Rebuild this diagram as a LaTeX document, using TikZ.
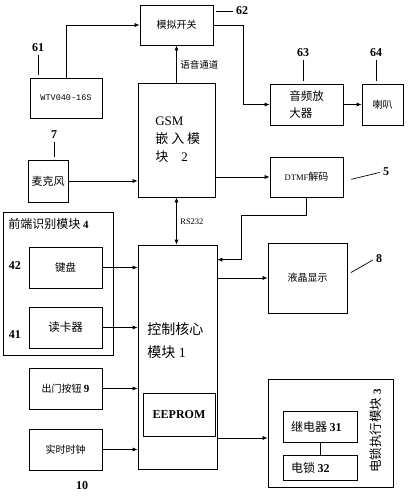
\documentclass[tikz,border=0pt]{standalone}
\usepackage{fontspec}
\setmainfont{Liberation Serif}
\setmonofont{Liberation Mono}
\newfontfamily\cjk{Noto Sans CJK SC}
\usetikzlibrary{arrows.meta, positioning}

\begin{document}
\begin{tikzpicture}[x=1pt, y=-1pt, line width=0.7pt,
    box/.style={draw, inner sep=1pt, font=\cjk\fontsize{10}{12}\selectfont},
    num/.style={font=\bfseries\fontsize{12}{13}\selectfont, inner sep=1pt},
    lead/.style={shorten <=2pt, shorten >=3pt},
    arr/.style={-{Latex[length=5pt,width=4pt]}}]
    \useasboundingbox (0,0) rectangle (407,500);

    % GSM part
    \node[box, minimum width=73, minimum height=40] (sw) at (176.5,25) {模拟开关};
    \node[box, minimum width=72, minimum height=40, font=\ttfamily\fontsize{8.5}{9}\selectfont] (wtv) at (66,98) {WTV040-16S};
    \node[box, minimum width=77, minimum height=114] (gsm) at (176.5,140) {};
    \node[anchor=north west, align=left, inner sep=0pt, font=\fontsize{13}{18}\selectfont] (gsmtxt) at (155,117) {GSM\\{\cjk 嵌 入 模}\\{\cjk 块}\quad 2};
    \node[box, minimum width=40, minimum height=42, font=\cjk\fontsize{11}{12}\selectfont] (mic) at (48,181) {麦克风};
    \node[box, minimum width=73, minimum height=41, align=left, font=\cjk\fontsize{11.5}{17}\selectfont] (amp) at (306.5,104.5) {音频放\\大器};
    \node[box, minimum width=41, minimum height=41] (spk) at (382.5,104.5) {喇叭};
    \node[box, minimum width=73, minimum height=40] (dtmf) at (306.5,177) {{\rmfamily\fontsize{8.5}{9}\selectfont DTMF}解码};

    % control part
    \node[box, minimum width=79, minimum height=224] (ctrl) at (177.5,357) {};
    \node[anchor=west, align=left, inner sep=0pt, font=\fontsize{14}{23}\selectfont] (ctrltxt) at (147,340.5) {{\cjk 控制核心}\\{\cjk 模块}~1};
    \node[draw, minimum width=72, minimum height=43, font=\bfseries\fontsize{12}{14}\selectfont] (eep) at (179,414.5) {EEPROM};
    \node[box, minimum width=79, minimum height=70] (lcd) at (307.5,278) {液晶显示};

    % front module
    \node[draw, minimum width=110, minimum height=143] (front) at (58,283.5) {};
    \node[anchor=west, inner sep=0pt, font=\cjk\fontsize{12}{13}\selectfont] (fronttitle) at (8,224) {前端识别模块~{\rmfamily\bfseries\fontsize{11}{12}\selectfont 4}};
    \node[box, minimum width=73, minimum height=41, font=\cjk\fontsize{10.5}{12}\selectfont] (kb) at (65.5,267.5) {键盘};
    \node[box, minimum width=73, minimum height=41, font=\cjk\fontsize{11.5}{12}\selectfont] (card) at (65.5,327.5) {读卡器};
    \node[box, minimum width=73, minimum height=41] (exit) at (65.5,388.5) {出门按钮~{\rmfamily\bfseries\fontsize{11}{12}\selectfont 9}};
    \node[box, minimum width=73, minimum height=41] (clock) at (65.5,449.5) {实时时钟};

    % lock module
    \node[draw, minimum width=125, minimum height=108] (lockgrp) at (330.5,433) {};
    \node[rotate=90, inner sep=0pt, font=\cjk\fontsize{12.5}{13}\selectfont] (locktxt) at (376,431) {电锁执行模块~{\rmfamily\bfseries\fontsize{11}{12}\selectfont 3}};
    \node[box, minimum width=74, minimum height=31, font=\cjk\fontsize{12}{13}\selectfont] (relay) at (320,426.5) {\makebox[58pt][l]{继电器~{\rmfamily\bfseries 31}}};
    \node[box, minimum width=74, minimum height=25, font=\cjk\fontsize{12}{13}\selectfont] (elock) at (320,467.5) {\makebox[58pt][l]{电锁~{\rmfamily\bfseries 32}}};

    % numbers
    \node[num] (l61) at (38,48) {61};
    \node[num] (l62) at (242,11) {62};
    \node[num] (l63) at (303,53) {63};
    \node[num] (l64) at (376,53) {64};
    \node[num] (l7) at (54,135) {7};
    \node[num] (l5) at (386,172) {5};
    \node[num] (l8) at (379,259) {8};
    \node[num] (l42) at (15,266) {42};
    \node[num] (l41) at (15,335) {41};
    \node[num] (l10) at (82,486) {10};

    % leader lines
    \draw[lead] (l61.south) -- (l61.south |- wtv.north);
    \draw[lead] (l7.south) -- (l7.south |- mic.north);
    \draw[lead] (l63.south) -- (l63.south |- amp.north);
    \draw[lead] (l64.south) -- (l64.south |- spk.north);
    \draw[lead] (l62.west) -- (sw.east |- l62.west);
    \draw[lead] (l5.west) -- ([xshift=5pt,yshift=-3pt]dtmf.east);
    \draw[lead] (l8.west) -- ([xshift=1pt,yshift=4pt]lcd.east);

    % connectors
    \draw[arr] (wtv.north) |- (sw.west);
    \draw[arr] (gsm.north) -- (gsm.north |- sw.south);
    \node[anchor=west, inner sep=1pt, font=\cjk\fontsize{9.5}{10}\selectfont] (voice) at (179,65) {语音通道};
    \draw[arr] (mic.east) -- (mic.east -| gsm.west);
    \coordinate (swout) at (243,25);
    \draw[arr] (sw.east) -- (swout) |- (amp.west);
    \draw[arr] (amp.east) -- (spk.west);
    \draw[arr] (gsm.east |- dtmf.west) -- (dtmf.west);
    \draw[{Latex[length=5pt,width=4pt]}-{Latex[length=5pt,width=4pt]}] (gsm.south) -- (gsm.south |- ctrl.north);
    \node[anchor=west, inner sep=1pt, font=\fontsize{8.5}{10}\selectfont] (rs) at (179,222) {RS232};
    \coordinate (bend) at (241,215);
    \draw[arr] (dtmf.south) |- (bend) |- ([yshift=-15pt]ctrl.north east);
    \draw[arr] (ctrl.east |- lcd.west) -- (lcd.west);
    \draw[arr] (kb.east) -- (kb.east -| ctrl.west);
    \draw[arr] (card.east) -- (card.east -| ctrl.west);
    \draw[arr] (exit.east) -- (exit.east -| ctrl.west);
    \draw[arr] (clock.east) -- (clock.east -| ctrl.west);
    \coordinate (lockin) at ([yshift=-5pt]lockgrp.west);
    \draw[arr] (ctrl.east |- lockin) -- (lockin);
    \draw (relay.south) -- (elock.north);
\end{tikzpicture}
\end{document}
